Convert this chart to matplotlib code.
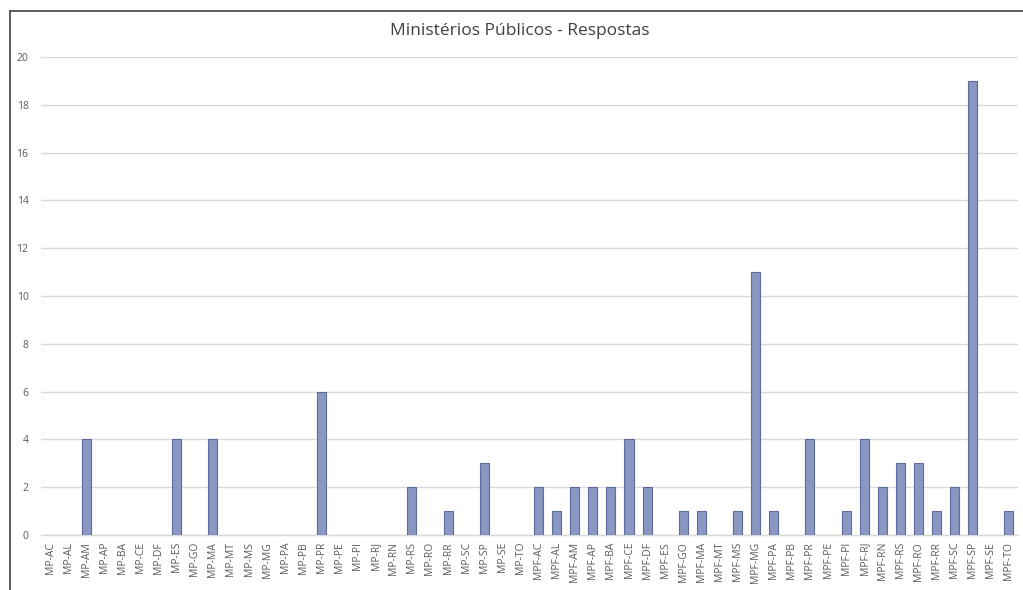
import matplotlib
matplotlib.use("Agg")
import matplotlib.pyplot as plt
from matplotlib.lines import Line2D

states = ["AC", "AL", "AM", "AP", "BA", "CE", "DF", "ES", "GO", "MA", "MT", "MS", "MG",
          "PA", "PB", "PR", "PE", "PI", "RJ", "RN", "RS", "RO", "RR", "SC", "SP", "SE", "TO"]
categories = ["MP-" + s for s in states] + ["MPF-" + s for s in states]

mp_values = [0, 0, 4, 0, 0, 0, 0, 4, 0, 4, 0, 0, 0,
             0, 0, 6, 0, 0, 0, 0, 2, 0, 1, 0, 3, 0, 0]
mpf_values = [2, 1, 2, 2, 2, 4, 2, 0, 1, 1, 0, 1, 11,
              1, 0, 4, 0, 1, 4, 2, 3, 3, 1, 2, 19, 0, 1]
values = mp_values + mpf_values

yticks = list(range(0, 21, 2))

plt.rcParams["font.family"] = ["Open Sans", "DejaVu Sans"]
text_color = "#595959"

fig = plt.figure(figsize=(10.23, 5.90), dpi=100)
W, H = 1023, 590
ax = fig.add_axes([41 / W, 55 / H, 977 / W, (535 - 57) / H])

x = list(range(len(categories)))
ax.bar(x, values, width=0.5, color="#8a97c3", edgecolor="#5d6c9c", linewidth=0.8, zorder=3)

ax.set_xlim(-0.5, len(categories) - 0.5)
ax.set_ylim(0, 20)
ax.set_yticks(yticks)
ax.set_yticklabels([str(t) for t in yticks])
ax.set_xticks(x)
ax.set_xticklabels(categories, rotation=90)

ax.yaxis.grid(True, color="#d9d9d9", linewidth=1.0, zorder=0)
ax.set_axisbelow(True)
for side in ("top", "right", "left"):
    ax.spines[side].set_visible(False)
ax.spines["bottom"].set_color("#d9d9d9")
ax.spines["bottom"].set_linewidth(1.0)

ax.tick_params(axis="y", length=0, pad=9, labelsize=7.5, labelcolor=text_color)
ax.tick_params(axis="x", length=0, pad=5, labelsize=7.5, labelcolor=text_color)

fig.text(520 / W, 1 - 31 / H, "Ministérios Públicos - Respostas",
         ha="center", va="center", fontsize=12.5, color="#404040")

# outer frame lines along the top and left edges
fig.add_artist(Line2D([9.5 / W, 1.0], [1 - 10.5 / H, 1 - 10.5 / H],
                      transform=fig.transFigure, color="#404040", linewidth=1.2))
fig.add_artist(Line2D([9.5 / W, 9.5 / W], [0.0, 1 - 10.5 / H],
                      transform=fig.transFigure, color="#404040", linewidth=1.2))

fig.savefig("out.png", dpi=100, facecolor="white")
